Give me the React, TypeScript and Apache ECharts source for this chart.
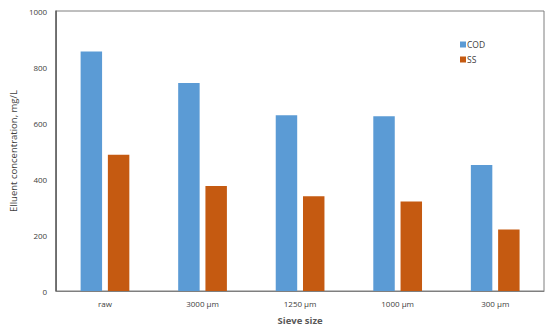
import React, { useEffect, useRef } from "react";
import * as echarts from "echarts";

const categories = ["raw", "3000 µm", "1250 µm", "1000 µm", "300 µm"];
const codValues = [855, 743, 628, 624, 450];
const ssValues = [487, 375, 338, 320, 220];
const yTicks = { min: 0, max: 1000, interval: 200 };

export default function App() {
  const ref = useRef<HTMLDivElement>(null);
  useEffect(() => {
    if (!ref.current) return;
    const chart = echarts.init(ref.current, null, { renderer: "svg" });
    const font = "'Open Sans', sans-serif";
    chart.setOption({
      animation: false,
      backgroundColor: "#ffffff",
      textStyle: { fontFamily: font },
      grid: {
        left: 47,
        right: 6,
        top: 11,
        bottom: 34,
        show: true,
        borderColor: "#7f7f7f",
        borderWidth: 1,
        containLabel: false,
      },
      legend: {
        orient: "vertical",
        left: 455,
        top: 35,
        itemWidth: 6,
        itemHeight: 6,
        itemGap: 6,
        icon: "rect",
        textStyle: { fontSize: 8.5, color: "#404040", fontFamily: font, padding: [0, 0, 0, -4] },
        data: ["COD", "SS"],
      },
      xAxis: {
        type: "category",
        data: categories,
        name: "Sieve size",
        nameLocation: "middle",
        nameGap: 24,
        nameTextStyle: { fontSize: 9.5, fontWeight: "bold", color: "#595959", fontFamily: font },
        axisLine: { show: true, lineStyle: { color: "#7f7f7f", width: 1 } },
        axisTick: { show: false },
        axisLabel: { fontSize: 8, color: "#404040", margin: 8, fontFamily: font },
      },
      yAxis: {
        type: "value",
        min: yTicks.min,
        max: yTicks.max,
        interval: yTicks.interval,
        name: "Elluent concentration, mg/L",
        nameLocation: "middle",
        nameGap: 32,
        nameTextStyle: { fontSize: 9.5, color: "#404040", fontFamily: font },
        axisLine: { show: true, lineStyle: { color: "#595959", width: 1.5 } },
        axisTick: { show: false },
        splitLine: { show: false },
        axisLabel: {
          fontSize: 8,
          color: "#404040",
          margin: 9,
          fontFamily: font,
          formatter: (v: number) => String(v),
        },
      },
      series: [
        {
          name: "COD",
          type: "bar",
          data: codValues,
          barWidth: "22%",
          barGap: "27%",
          itemStyle: { color: "#5B9BD5" },
        },
        {
          name: "SS",
          type: "bar",
          data: ssValues,
          barWidth: "22%",
          itemStyle: { color: "#C55A11" },
        },
      ],
    });
    return () => chart.dispose();
  }, []);
  return <div ref={ref} style={{ width: 550, height: 330, position: "absolute", left: 0, top: 0 }} />;
}
